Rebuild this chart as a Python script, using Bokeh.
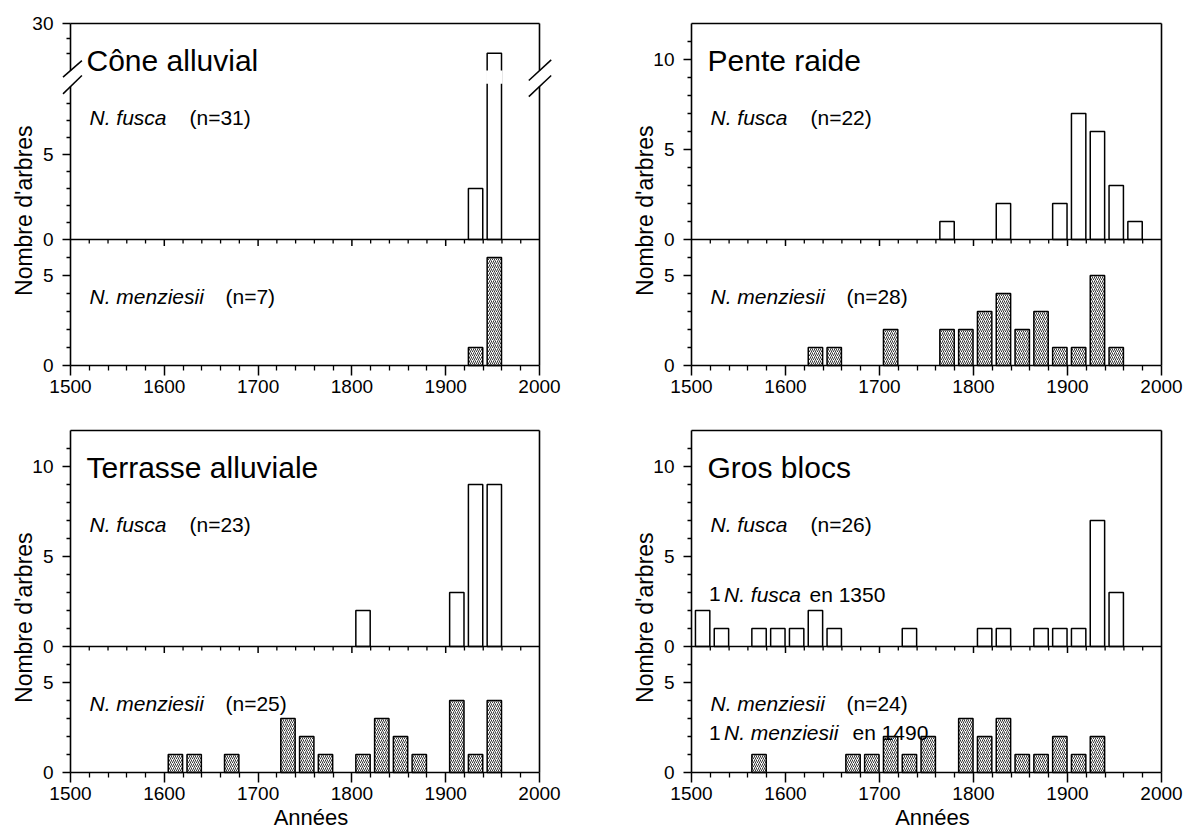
import math
from bokeh.plotting import figure
from bokeh.layouts import column, row
from bokeh.models import Range1d, FixedTicker
from bokeh.embed import file_html
from bokeh.resources import INLINE
from bokeh.core.properties import value

FONT = "Liberation Sans"

# ---------------- data (20-year age classes: first year of class, number of trees) ----
titles = ["Cône alluvial", "Pente raide", "Terrasse alluviale", "Gros blocs"]
x_major = [1500, 1600, 1700, 1800, 1900, 2000]
x_minor = [y for y in range(1520, 2000, 20) if y % 100 != 0]

cone_fusca_years = [1920, 1940]
cone_fusca_counts = [3, 28]
cone_menz_years = [1920, 1940]
cone_menz_counts = [1, 6]

pente_fusca_years = [1760, 1820, 1880, 1900, 1920, 1940, 1960]
pente_fusca_counts = [1, 2, 2, 7, 6, 3, 1]
pente_menz_years = [1620, 1640, 1700, 1760, 1780, 1800, 1820, 1840, 1860, 1880, 1900, 1920, 1940]
pente_menz_counts = [1, 1, 2, 2, 2, 3, 4, 2, 3, 1, 1, 5, 1]

terr_fusca_years = [1800, 1900, 1920, 1940]
terr_fusca_counts = [2, 3, 9, 9]
terr_menz_years = [1600, 1620, 1660, 1720, 1740, 1760, 1800, 1820, 1840, 1860, 1900, 1920, 1940]
terr_menz_counts = [1, 1, 1, 3, 2, 1, 1, 3, 2, 1, 4, 1, 4]

gros_fusca_years = [1500, 1520, 1560, 1580, 1600, 1620, 1640, 1720, 1800, 1820, 1860, 1880, 1900, 1920, 1940]
gros_fusca_counts = [2, 1, 1, 1, 1, 2, 1, 1, 1, 1, 1, 1, 1, 7, 3]
gros_menz_years = [1560, 1660, 1680, 1700, 1720, 1740, 1780, 1800, 1820, 1840, 1860, 1880, 1900, 1920]
gros_menz_counts = [1, 1, 1, 2, 1, 2, 3, 2, 3, 1, 1, 2, 1, 2]

n_fusca = [31, 22, 23, 26]
n_menz = [7, 28, 25, 24]
gros_extra_fusca_year = 1350
gros_extra_menz_year = 1490

# ---------------- layout constants ----------------
PX = 18.0          # pixels per tree
LOW = 7            # height of lower (N. menziesii) sub-plot, in trees
TOP = 19           # LOW + 12
AX_X = 70          # px from figure left to x = 1500
AX_TOP = 23        # px from figure top to y = TOP
AX_ZERO = 365      # px from figure top to y = 0
LW = 1.6


def make_panel(idx, fy, fc, my, mc, span_px, fig_w, fig_h, brk=False, extra=False, xlabel=False):
    xpp = 500.0 / span_px
    x0 = 1500 - AX_X * xpp
    x1 = x0 + fig_w * xpp
    y1 = TOP + AX_TOP / PX
    y0 = -(fig_h - AX_ZERO) / PX
    p = figure(width=fig_w, height=fig_h, output_backend="svg", toolbar_location=None,
               x_range=Range1d(x0, x1), y_range=Range1d(y0, y1),
               min_border_left=0, min_border_right=0, min_border_top=0, min_border_bottom=0)
    p.outline_line_color = None
    p.grid.visible = False
    p.background_fill_color = "white"
    p.border_fill_color = "white"

    # upper sub-plot value -> display coordinate
    if brk:
        def up(v):
            return LOW + v * 0.944 if v < 15 else TOP - (30 - v) * 0.825
        up_major = [0, 5, 30]
        up_minor = [1, 2, 3, 4, 6, 7, 8, 28, 29]
    else:
        def up(v):
            return LOW + v
        up_major = [0, 5, 10]
        up_minor = [1, 2, 3, 4, 6, 7, 8, 9, 11]

    # ---- bars ----
    p.quad(left=[y + 4.2 for y in fy], right=[y + 19.5 for y in fy],
           bottom=LOW, top=[up(v) for v in fc],
           fill_color="white", line_color="black", line_width=1.5)
    p.quad(left=[y + 4.2 for y in my], right=[y + 19.5 for y in my],
           bottom=0, top=mc,
           fill_color="white", line_color="black", line_width=1.5,
           hatch_pattern="/", hatch_color="#1e1e1e", hatch_weight=0.9, hatch_scale=4.0)

    # ---- frame pieces ----
    p.segment(x0=[1500], y0=[LOW], x1=[2000], y1=[LOW], line_color="black", line_width=LW)
    p.segment(x0=[1500], y0=[TOP], x1=[2000], y1=[TOP], line_color="black", line_width=LW)
    p.segment(x0=x_minor, y0=LOW, x1=x_minor, y1=LOW - 4 / PX, line_color="black", line_width=1.3)
    mid_major = x_major[1:-1]
    p.segment(x0=mid_major, y0=LOW, x1=mid_major, y1=LOW - 6.5 / PX, line_color="black", line_width=1.5)

    if brk:
        g0, g1 = 15.5, 16.39
        tall = [i for i, v in enumerate(fc) if v > 15]
        p.quad(left=[fy[i] + 3.0 for i in tall], right=[fy[i] + 20.7 for i in tall],
               bottom=15.65, top=16.39, fill_color="white", line_color=None)
        p.segment(x0=[1500, 1500, 2000, 2000], y0=[0, g1, 0, g1],
                  x1=[1500, 1500, 2000, 2000], y1=[g0, TOP, g0, TOP],
                  line_color="black", line_width=LW)
        p.segment(x0=[1500 - 7.5 * xpp, 1500 - 7.5 * xpp, 1500 + 458.3 * xpp, 1500 + 458.3 * xpp],
                  y0=[16.02, 15.09, 15.83, 14.94],
                  x1=[1500 + 11.4 * xpp, 1500 + 11.4 * xpp, 1500 + 480.7 * xpp, 1500 + 480.7 * xpp],
                  y1=[16.94, 16.11, 16.98, 16.11],
                  line_color="black", line_width=1.5)
    else:
        p.segment(x0=[2000], y0=[0], x1=[2000], y1=[TOP], line_color="black", line_width=LW)

    # ---- axes (placed at the data origin of the panel) ----
    xa = p.xaxis[0]
    xa.fixed_location = 0
    xa.ticker = FixedTicker(ticks=x_major, minor_ticks=x_minor)
    xa.bounds = (1500, 2000)
    xa.axis_line_width = LW
    xa.major_tick_out = 10
    xa.major_tick_in = 0
    xa.minor_tick_out = 5
    xa.minor_tick_in = 0
    xa.major_tick_line_width = 1.5
    xa.minor_tick_line_width = 1.3
    xa.major_label_standoff = 4
    xa.major_label_text_font = FONT
    xa.major_label_text_font_size = "19px"
    xa.major_label_text_color = "black"

    ya = p.yaxis[0]
    ya.fixed_location = 1500
    y_ticks = [0, 5] + [round(up(v), 3) for v in up_major]
    y_minor = [1, 2, 3, 4, 6] + [round(up(v), 3) for v in up_minor]
    ya.ticker = FixedTicker(ticks=y_ticks, minor_ticks=y_minor)
    ya.major_label_overrides = {0: "0", 5: "5",
                                y_ticks[2]: str(up_major[0]), y_ticks[3]: str(up_major[1]),
                                y_ticks[4]: str(up_major[2])}
    ya.bounds = (0, TOP)
    ya.axis_line_width = LW
    if brk:
        ya.axis_line_color = None
    ya.major_tick_out = 8
    ya.major_tick_in = 0
    ya.minor_tick_out = 4
    ya.minor_tick_in = 0
    ya.major_tick_line_width = 1.5
    ya.minor_tick_line_width = 1.3
    ya.major_label_standoff = 9
    ya.major_label_text_font = FONT
    ya.major_label_text_font_size = "19px"
    ya.major_label_text_color = "black"

    # ---- texts ----
    tf = value(FONT)
    common = dict(text_font=tf, text_baseline="alphabetic", text_align="left", text_color="black")
    p.text(x=[1500 + 16 * xpp], y=[16.95], text=[titles[idx]], text_font_size="30px", **common)
    p.text(x=[1500 + 19 * xpp], y=[13.8], text=["N. fusca"], text_font_style="italic",
           text_font_size="21px", **common)
    p.text(x=[1500 + 119 * xpp], y=[13.8], text=["(n=%d)" % n_fusca[idx]], text_font_size="21px", **common)
    p.text(x=[1500 + 19 * xpp], y=[3.83], text=["N. menziesii"], text_font_style="italic",
           text_font_size="21px", **common)
    p.text(x=[1500 + 155 * xpp], y=[3.83], text=["(n=%d)" % n_menz[idx]], text_font_size="21px", **common)
    if extra:
        p.text(x=[1500 + 17.5 * xpp, 1500 + 17.5 * xpp], y=[9.9, 2.2], text=["1", "1"],
               text_font_size="21px", **common)
        p.text(x=[1500 + 32.5 * xpp, 1500 + 32.5 * xpp], y=[9.9, 2.2], text=["N. fusca", "N. menziesii"],
               text_font_style="italic", text_font_size="21px", **common)
        p.text(x=[1500 + 118 * xpp, 1500 + 161 * xpp], y=[9.9, 2.2],
               text=["en %d" % gros_extra_fusca_year, "en %d" % gros_extra_menz_year],
               text_font_size="21px", **common)

    p.text(x=[1500 - 47 * xpp], y=[8.6], text=["Nombre d'arbres"], angle=math.pi / 2,
           text_font=tf, text_align="center", text_baseline="middle",
           text_font_size="23px", text_color="black")
    if xlabel:
        p.text(x=[1750 + 6 * xpp], y=[-45 / PX], text=["Années"],
               text_font=tf, text_align="center", text_baseline="alphabetic",
               text_font_size="22px", text_color="black")
    return p


W_LEFT, W_RIGHT = 621, 566
H_TOP, H_BOT = 407, 423

p1 = make_panel(0, cone_fusca_years, cone_fusca_counts, cone_menz_years, cone_menz_counts,
                469, W_LEFT, H_TOP, brk=True)
p2 = make_panel(1, pente_fusca_years, pente_fusca_counts, pente_menz_years, pente_menz_counts,
                470, W_RIGHT, H_TOP)
p3 = make_panel(2, terr_fusca_years, terr_fusca_counts, terr_menz_years, terr_menz_counts,
                469, W_LEFT, H_BOT, xlabel=True)
p4 = make_panel(3, gros_fusca_years, gros_fusca_counts, gros_menz_years, gros_menz_counts,
                470, W_RIGHT, H_BOT, extra=True, xlabel=True)

layout = column(row(p1, p2), row(p3, p4))
open("out.html", "w").write(file_html(layout, INLINE))
